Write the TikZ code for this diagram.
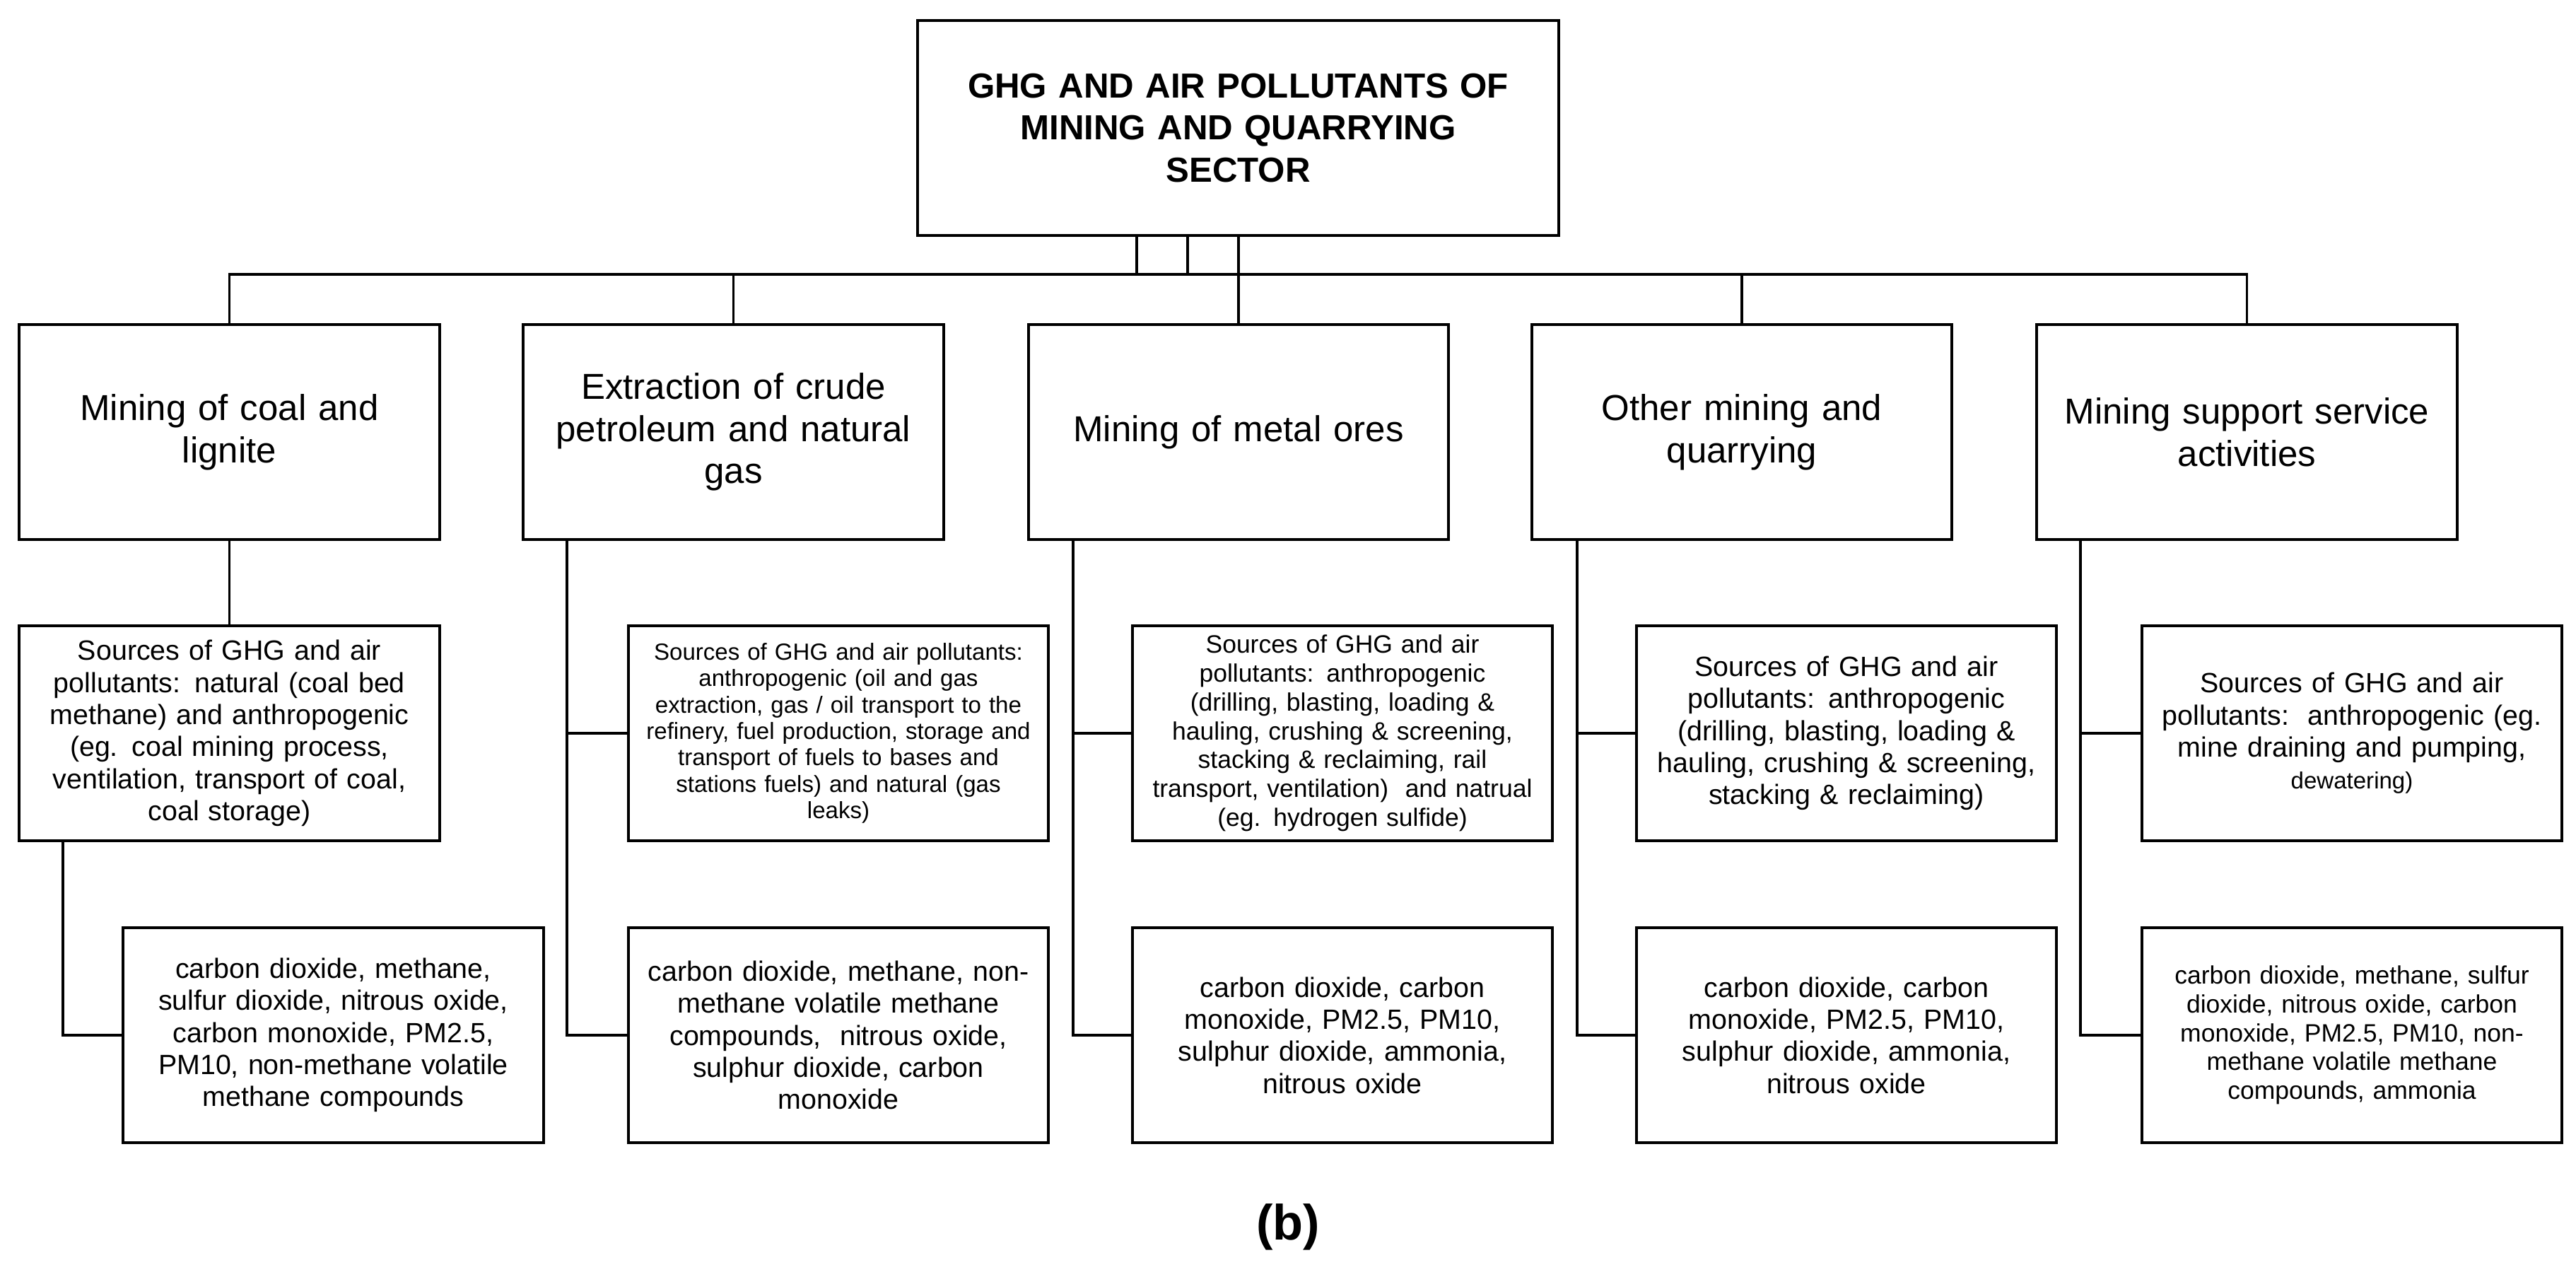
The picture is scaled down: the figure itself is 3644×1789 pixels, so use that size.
\documentclass[tikz,border=0pt]{standalone}
\usepackage{fontspec}
\setmainfont{Liberation Sans}
\begin{document}
\begin{tikzpicture}[x=0.01cm,y=-0.01cm,
  box/.style={draw,line width=1.1pt,inner sep=2pt,align=center,minimum width=5.94cm,minimum height=3.04cm,text width=5.75cm},
  ln/.style={line width=1.1pt},
  t1/.style={font=\fontsize{14.5}{17}\selectfont},
  t2/.style={font=\fontsize{11.2}{12.9}\selectfont},
  t3/.style={font=\fontsize{9.4}{10.6}\selectfont},
  t4/.style={font=\fontsize{10.1}{11.6}\selectfont}]
\useasboundingbox (0,0) rectangle (3644,1789);
\node[box,minimum width=9.07cm,text width=8.9cm,font=\fontsize{14}{17}\selectfont\bfseries] (t) at (1751.5,181) {GHG AND AIR POLLUTANTS OF\\MINING AND QUARRYING\\SECTOR};
% level 1
\node[box,t1] (a1) at (324.5,611) {Mining of coal and\\lignite};
\node[box,t1] (a2) at (1037.5,611) {Extraction of crude\\petroleum and natural\\gas};
\node[box,t1] (a3) at (1752,611) {Mining of metal ores};
\node[box,t1] (a4) at (2464,611) {Other mining and\\quarrying};
\node[box,t1] (a5) at (3178.5,611) {Mining support service\\activities};
% level 2
\node[box,t2] (b1) at (324.5,1037) {Sources of GHG and air\\pollutants: natural (coal bed\\methane) and anthropogenic\\(eg. coal mining process,\\ventilation, transport of coal,\\coal storage)};
\node[box,t3] (b2) at (1186,1037) {Sources of GHG and air pollutants:\\anthropogenic (oil and gas\\extraction, gas / oil transport to the\\refinery, fuel production, storage and\\transport of fuels to bases and\\stations fuels) and natural (gas\\leaks)};
\node[box,t4] (b3) at (1899,1037) {Sources of GHG and air\\pollutants: anthropogenic\\(drilling, blasting, loading \&\\hauling, crushing \& screening,\\stacking \& reclaiming, rail\\transport, ventilation)\ \ and natrual\\(eg. hydrogen sulfide)};
\node[box,t2] (b4) at (2612,1037) {Sources of GHG and air\\pollutants: anthropogenic\\(drilling, blasting, loading \&\\hauling, crushing \& screening,\\stacking \& reclaiming)};
\node[box,t2] (b5) at (3327,1037) {Sources of GHG and air\\pollutants:\ \ anthropogenic (eg.\\mine draining and pumping,\\{\fontsize{9.4}{12.9}\selectfont dewatering)}};
% level 3
\node[box,t2] (c1) at (471.5,1464) {carbon dioxide, methane,\\sulfur dioxide, nitrous oxide,\\carbon monoxide, PM2.5,\\PM10, non-methane volatile\\methane compounds};
\node[box,t2] (c2) at (1186,1464) {carbon dioxide, methane, non-\\methane volatile methane\\compounds,\ \ nitrous oxide,\\sulphur dioxide, carbon\\monoxide};
\node[box,t2] (c3) at (1899,1464) {carbon dioxide, carbon\\monoxide, PM2.5, PM10,\\sulphur dioxide, ammonia,\\nitrous oxide};
\node[box,t2] (c4) at (2612,1464) {carbon dioxide, carbon\\monoxide, PM2.5, PM10,\\sulphur dioxide, ammonia,\\nitrous oxide};
\node[box,t4] (c5) at (3327,1464) {carbon dioxide, methane, sulfur\\dioxide, nitrous oxide, carbon\\monoxide, PM2.5, PM10, non-\\methane volatile methane\\compounds, ammonia};
\node[font=\fontsize{20}{24}\selectfont\bfseries,inner sep=0pt] (lab) at (1822,1735) {\textrm{(b)}};
% connectors
\coordinate (bus) at (0,388);
\coordinate (tl) at (1608,333);
\coordinate (tr) at (1680,333);
\draw[ln] (tl) -- (tl |- bus);
\draw[ln] (tr) -- (tr |- bus);
\draw[ln] (a1.north) -- (a1.north |- bus) -- (a5.north |- bus) -- (a5.north);
\draw[ln] (a2.north) -- (a2.north |- bus);
\draw[ln] (a4.north) -- (a4.north |- bus);
\draw[ln] (t.south -| a3.north) -- (a3.north);
\draw[ln] (a1) -- (b1);
\coordinate (s1) at (89,1189);
\draw[ln] (s1) |- (c1.west);
\coordinate (s2) at (802,763);
\draw[ln] (s2) |- (c2.west); \draw[ln] (s2 |- b2.west) -- (b2.west);
\coordinate (s3) at (1518,763);
\draw[ln] (s3) |- (c3.west); \draw[ln] (s3 |- b3.west) -- (b3.west);
\coordinate (s4) at (2231,763);
\draw[ln] (s4) |- (c4.west); \draw[ln] (s4 |- b4.west) -- (b4.west);
\coordinate (s5) at (2943,763);
\draw[ln] (s5) |- (c5.west); \draw[ln] (s5 |- b5.west) -- (b5.west);
\end{tikzpicture}
\end{document}
